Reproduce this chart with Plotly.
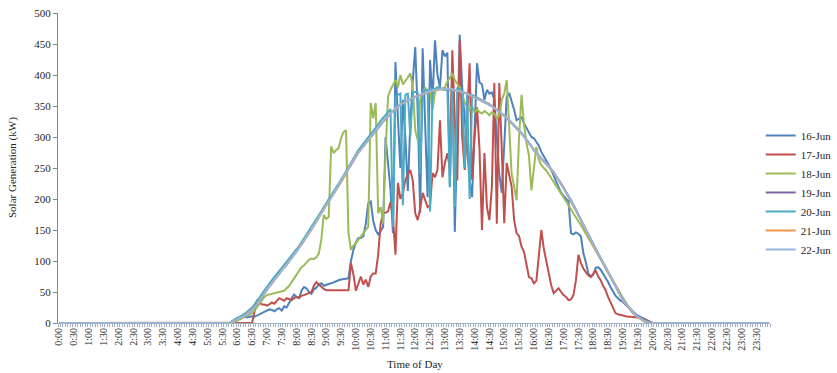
import plotly.graph_objects as go

# ---------------- data ----------------
# 5-minute time slots of the day (category axis)
times = [f"{h}:{m:02d}" for h in range(24) for m in range(0, 60, 5)]
tick_labels = [f"{h}:{m:02d}" for h in range(24) for m in (0, 30)]

series_names = ["16-Jun", "17-Jun", "18-Jun", "19-Jun", "20-Jun", "21-Jun", "22-Jun"]
series_colors = ["#4F81BD", "#C0504D", "#9BBB59", "#8064A2", "#4BACC6", "#F79646", "#98B5DA"]

NIGHT_BEFORE = 69  # slots before 5:45 are zero

# daytime readings from 5:45 to 20:00 (kW)
jun16 = [0, 3, 6,
    8, 9, 10, 10, 9, 10, 11, 10, 12, 14, 16, 18,
    20, 22, 21, 19, 22, 24, 20, 27, 25, 33, 40, 46,
    42, 40, 52, 58, 56, 50, 47, 54, 57, 62, 64, 60,
    62, 63, 64, 66, 67, 69, 70, 71, 71, 72, 100, 118,
    130, 137, 137, 140, 160, 193, 196, 165, 150, 143, 148, 155,
    300, 258, 215, 145, 421, 330, 250, 360, 300, 213, 323, 390,
    445, 340, 177, 443, 330, 203, 424, 360, 456, 400, 380, 440,
    430, 436, 219, 413, 147, 300, 465, 380, 330, 280, 230, 203,
    300, 419, 388, 385, 360, 376, 370, 372, 360, 300, 240, 210,
    290, 365, 371, 358, 344, 327, 330, 332, 322, 315, 308, 300,
    298, 292, 286, 276, 268, 262, 255, 247, 238, 228, 220, 210,
    205, 200, 196, 145, 143, 146, 144, 140, 113, 98, 80, 75,
    78, 89, 90, 86, 80, 74, 66, 58, 50, 44, 40, 36,
    34, 30, 26, 22, 18, 15, 12, 10, 8, 6, 5, 3,
    0]

jun17 = [0, 0, 0,
    0, 0, 0, 0, 0, 0, 0, 18, 37, 33, 30, 30,
    28, 30, 33, 31, 35, 40, 38, 36, 40, 38, 37, 40,
    42, 41, 44, 45, 47, 48, 50, 60, 66, 62, 58, 55,
    53, 53, 53, 53, 53, 53, 53, 53, 53, 53, 97, 78,
    52, 65, 75, 62, 70, 58, 75, 80, 80, 110, 160, 178,
    178, 180, 195, 170, 110, 226, 200, 210, 230, 240, 247, 230,
    177, 166, 185, 210, 200, 187, 190, 242, 235, 247, 327, 235,
    258, 274, 250, 440, 327, 230, 456, 300, 247, 330, 419, 231,
    300, 348, 280, 150, 274, 187, 166, 220, 387, 160, 387, 280,
    161, 258, 240, 220, 166, 145, 140, 123, 115, 95, 74, 72,
    64, 68, 110, 150, 120, 101, 80, 61, 48, 52, 56, 50,
    45, 42, 37, 38, 45, 69, 110, 97, 88, 82, 77, 74,
    80, 85, 75, 69, 60, 53, 42, 34, 25, 16, 14, 13,
    11, 10, 10, 10, 10, 10, 9, 8, 7, 5, 3, 1,
    0]

jun18 = [0, 0, 2,
    4, 6, 8, 10, 12, 14, 16, 20, 26, 32, 38, 42,
    45, 46, 47, 48, 48, 49, 50, 52, 56, 60, 66, 72,
    78, 85, 90, 93, 98, 102, 104, 103, 106, 112, 134, 174,
    168, 171, 285, 274, 279, 282, 298, 308, 311, 145, 118, 125,
    129, 135, 139, 145, 150, 155, 355, 330, 355, 177, 187, 161,
    274, 365, 376, 385, 392, 380, 400, 385, 390, 396, 403, 381,
    311, 295, 360, 372, 380, 370, 375, 344, 372, 380, 378, 376,
    380, 390, 395, 403, 392, 385, 380, 370, 355, 350, 344, 350,
    339, 345, 340, 338, 342, 339, 335, 340, 338, 330, 335, 360,
    370, 392, 306, 240, 220, 198, 300, 368, 320, 290, 270, 214,
    250, 284, 263, 255, 250, 246, 240, 234, 228, 222, 216, 210,
    204, 197, 190, 183, 176, 170, 164, 158, 151, 145, 138, 131,
    125, 118, 111, 104, 96, 89, 82, 75, 67, 60, 53, 46,
    40, 34, 28, 23, 18, 14, 10, 7, 4, 2, 1, 0,
    0]

jun19 = [0, 2, 4,
    5, 7, 10, 12, 14, 17, 21, 25, 30, 36, 42, 48,
    55, 59, 64, 70, 75, 80, 85, 89, 94, 100, 105, 110,
    116, 121, 127, 133, 139, 145, 151, 157, 163, 170, 177, 184,
    190, 196, 203, 209, 215, 221, 228, 235, 242, 249, 256, 262,
    269, 275, 280, 285, 290, 295, 300, 305, 310, 315, 320, 324,
    329, 334, 338, 342, 346, 349, 352, 355, 357, 359, 361, 363,
    365, 366, 368, 369, 370, 372, 373, 375, 376, 377, 377, 378,
    378, 377, 377, 376, 376, 375, 374, 373, 371, 370, 368, 366,
    364, 363, 361, 359, 357, 354, 352, 350, 347, 344, 341, 337,
    334, 331, 327, 323, 319, 315, 310, 306, 301, 296, 290, 285,
    279, 274, 270, 265, 261, 257, 252, 248, 242, 237, 231, 225,
    218, 212, 205, 197, 190, 182, 174, 166, 158, 150, 142, 134,
    126, 118, 111, 104, 97, 89, 82, 75, 67, 60, 52, 44,
    37, 31, 26, 22, 17, 13, 10, 7, 5, 3, 1, 0,
    0]

jun20 = [0, 3, 6,
    8, 10, 12, 15, 18, 21, 25, 30, 35, 41, 47, 53,
    59, 64, 69, 74, 79, 83, 88, 93, 98, 103, 108, 113,
    118, 124, 130, 136, 142, 148, 154, 160, 166, 173, 180, 187,
    193, 199, 205, 212, 218, 224, 231, 238, 245, 252, 259, 266,
    273, 279, 284, 289, 294, 300, 305, 310, 315, 320, 326, 331,
    336, 341, 345, 155, 365, 368, 370, 190, 368, 370, 300, 372,
    373, 372, 240, 374, 375, 376, 180, 377, 378, 380, 379, 378,
    376, 377, 220, 378, 187, 380, 376, 374, 250, 372, 200, 368,
    366, 364, 362, 360, 357, 355, 353, 350, 347, 344, 341, 338,
    335, 331, 327, 323, 319, 315, 311, 306, 301, 296, 290, 285,
    279, 275, 270, 266, 261, 257, 253, 248, 243, 237, 231, 225,
    219, 212, 205, 198, 190, 182, 174, 166, 158, 150, 142, 134,
    126, 119, 112, 104, 97, 90, 82, 75, 68, 60, 52, 44,
    37, 32, 27, 22, 17, 13, 10, 7, 5, 3, 1, 0,
    0]

jun21 = [0, 1, 4,
    5, 8, 9, 12, 15, 17, 21, 26, 30, 36, 43, 48,
    54, 60, 65, 70, 74, 80, 84, 90, 95, 100, 104, 110,
    115, 122, 127, 132, 139, 144, 150, 157, 164, 170, 176, 184,
    191, 196, 202, 208, 215, 222, 228, 234, 242, 248, 256, 263,
    270, 276, 280, 286, 290, 295, 301, 305, 310, 316, 320, 325,
    330, 333, 338, 342, 345, 349, 352, 355, 356, 359, 361, 364,
    365, 367, 367, 369, 371, 372, 373, 375, 376, 376, 377, 378,
    377, 378, 377, 376, 376, 375, 373, 373, 372, 369, 368, 365,
    365, 362, 361, 358, 357, 355, 352, 350, 346, 344, 340, 338,
    335, 330, 327, 322, 319, 314, 311, 305, 301, 295, 290, 284,
    280, 275, 269, 266, 260, 257, 253, 247, 243, 236, 231, 224,
    219, 211, 205, 198, 189, 182, 173, 166, 157, 150, 141, 134,
    125, 119, 111, 105, 96, 90, 81, 75, 67, 61, 52, 45,
    36, 32, 26, 22, 16, 13, 9, 7, 4, 3, 1, 0,
    0]

jun22 = [0, 2, 4,
    5, 7, 9, 12, 14, 17, 21, 25, 30, 36, 42, 48,
    55, 60, 64, 70, 75, 79, 85, 90, 94, 100, 105, 110,
    115, 121, 127, 132, 139, 145, 150, 157, 163, 170, 177, 184,
    190, 196, 202, 209, 215, 221, 228, 235, 242, 249, 256, 263,
    270, 275, 281, 285, 290, 296, 300, 305, 311, 315, 320, 325,
    330, 334, 338, 341, 346, 349, 352, 354, 357, 359, 361, 363,
    365, 367, 368, 369, 371, 372, 374, 375, 376, 377, 377, 378,
    378, 378, 377, 377, 376, 375, 374, 373, 372, 370, 368, 366,
    365, 363, 361, 359, 357, 355, 353, 350, 347, 344, 341, 338,
    335, 331, 327, 323, 319, 315, 311, 306, 301, 296, 290, 285,
    279, 275, 270, 266, 261, 257, 253, 248, 243, 237, 231, 225,
    219, 212, 205, 198, 190, 182, 174, 166, 158, 150, 142, 134,
    126, 119, 112, 104, 97, 90, 82, 75, 68, 60, 52, 44,
    37, 32, 27, 22, 17, 13, 10, 7, 5, 3, 1, 0,
    0]

day_series = [jun16, jun17, jun18, jun19, jun20, jun21, jun22]


def full_day(day):
    vals = [0] * NIGHT_BEFORE + list(day)
    vals += [0] * (len(times) - len(vals))
    return vals


FONT = "Liberation Serif"

fig = go.Figure()
for name, color, day in zip(series_names, series_colors, day_series):
    fig.add_trace(go.Scatter(
        x=times, y=full_day(day), name=name, mode="lines",
        line=dict(color=color, width=2),
    ))

fig.update_layout(
    width=837, height=373,
    margin=dict(l=58, r=67, t=13, b=50, autoexpand=False),
    paper_bgcolor="white", plot_bgcolor="white",
    font=dict(family=FONT, size=11, color="#262626"),
    showlegend=True,
    legend=dict(
        x=0.987, xanchor="left", y=0.421, yanchor="middle",
        font=dict(family=FONT, size=11, color="#262626"),
        bgcolor="rgba(0,0,0,0)", tracegroupgap=0,
    ),
    annotations=[
        dict(text="Time of Day", xref="paper", yref="paper", x=0.5014, y=-0.132,
             xanchor="center", yanchor="middle", showarrow=False,
             font=dict(family=FONT, size=11, color="#262626")),
        dict(text="Solar Generation (kW)", xref="paper", yref="paper", x=-0.0646, y=0.5,
             xanchor="center", yanchor="middle", textangle=-90, showarrow=False,
             font=dict(family=FONT, size=11, color="#262626")),
    ],
)

fig.update_xaxes(
    type="category",
    categoryorder="array", categoryarray=times,
    range=[-0.5, len(times) - 0.5],
    tickmode="array", tickvals=times,
    ticktext=[t if t in tick_labels else "" for t in times],
    tickangle=-90, tickson="boundaries",
    ticks="outside", ticklen=3, tickcolor="#9fb0c4", tickwidth=1,
    tickfont=dict(family=FONT, size=10, color="#262626"),
    showline=True, linecolor="#9fb0c4", linewidth=1,
    showgrid=False, zeroline=False, automargin=False,
)
fig.update_yaxes(
    range=[0, 500], tick0=0, dtick=50,
    ticks="outside", ticklen=4, tickcolor="#868686",
    tickfont=dict(family=FONT, size=11, color="#262626"),
    showline=True, linecolor="#868686", linewidth=1,
    showgrid=False, zeroline=False, automargin=False,
)

fig.write_html(
    "out.html",
    config={"displayModeBar": False},
    post_script="document.body.style.margin='0px';document.body.style.padding='0px';",
)
